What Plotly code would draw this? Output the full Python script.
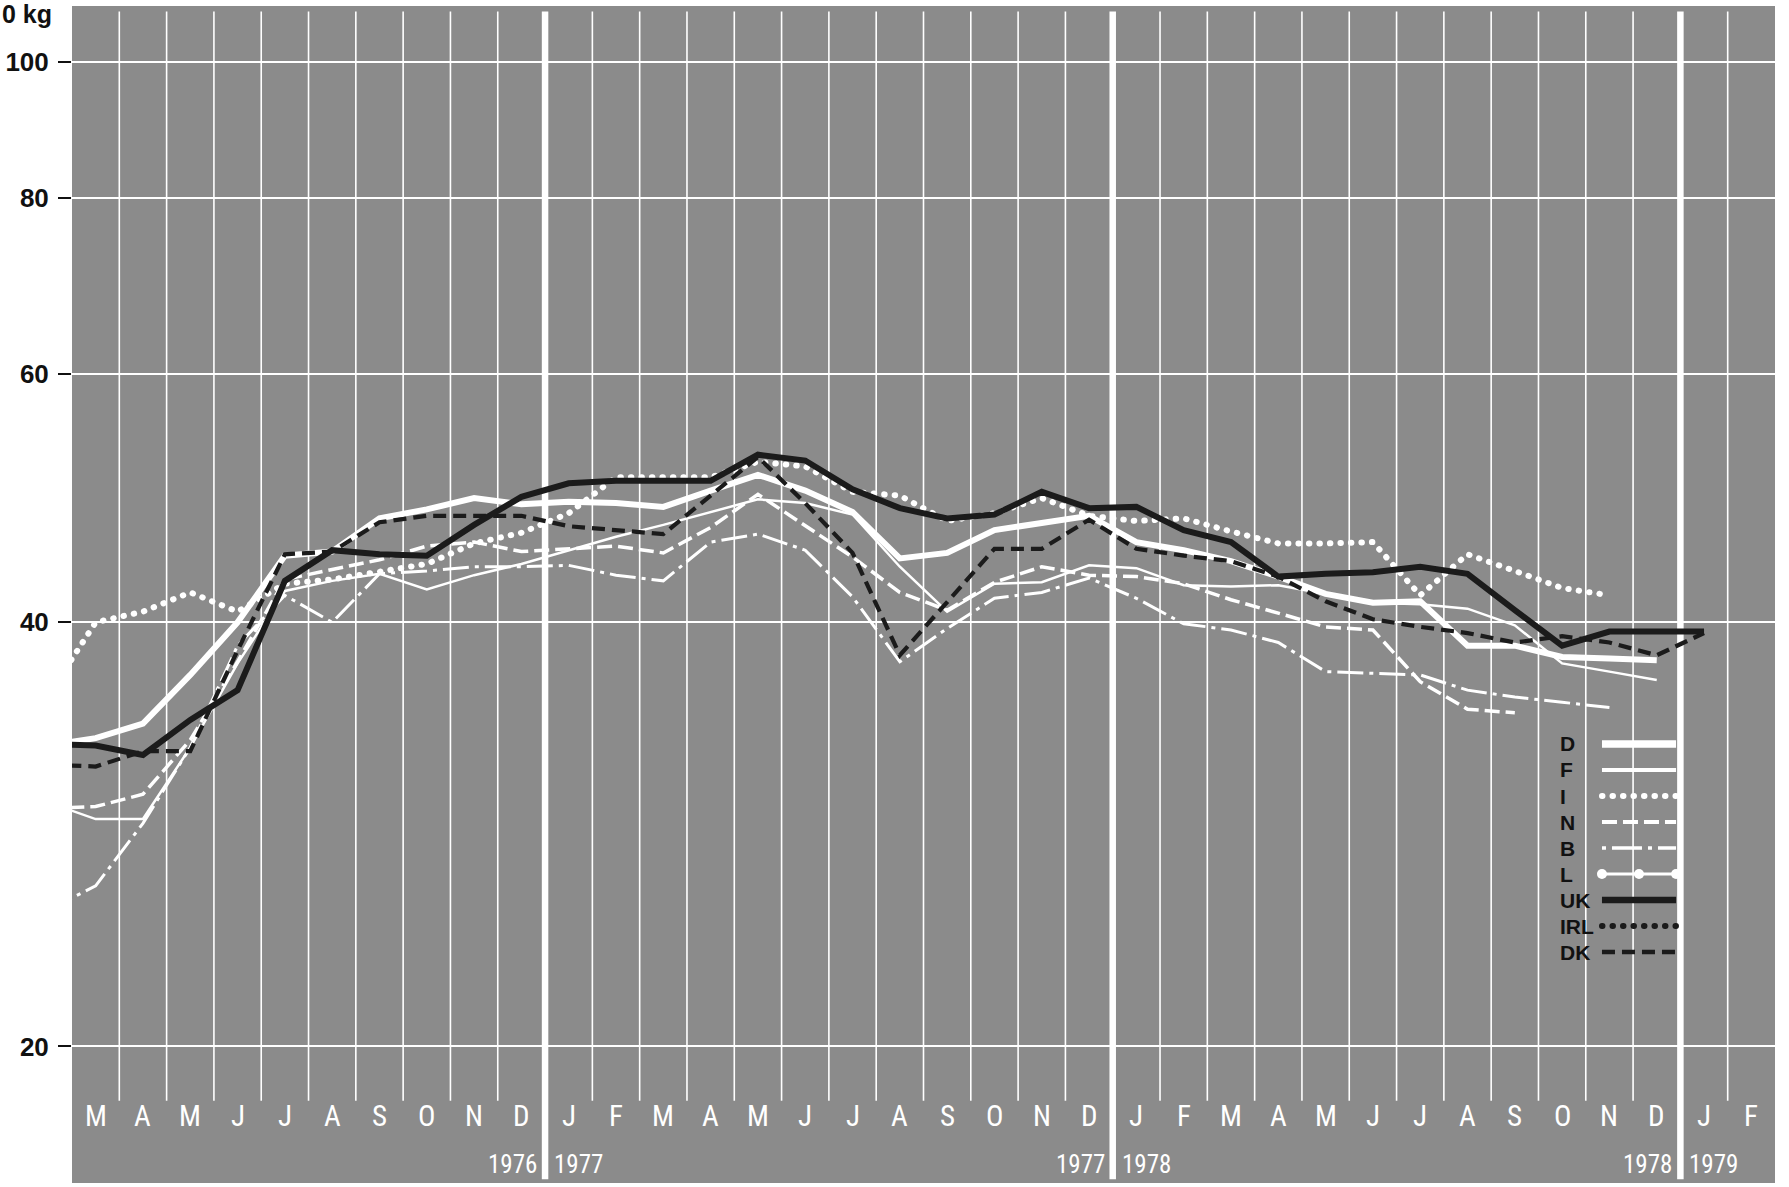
import math
import plotly.graph_objects as go

# ---------------- data ----------------
# month index 0 = March 1976 ; every series starts at index -1 (February 1976)
month_labels = ["M", "A", "M", "J", "J", "A", "S", "O", "N", "D",
                "J", "F", "M", "A", "M", "J", "J", "A", "S", "O", "N", "D",
                "J", "F", "M", "A", "M", "J", "J", "A", "S", "O", "N", "D",
                "J", "F"]
year_breaks = [9.5, 21.5, 33.5]
years_before = ["1976", "1977", "1978"]
years_after = ["1977", "1978", "1979"]
y_ticks = [20, 40, 60, 80, 100]
first_index = -1

D = [32.7, 33.1, 33.9, 36.7, 40.0, 44.6, 44.9, 47.4, 48.1, 49.0, 48.5, 48.7, 48.6, 48.3,
     49.6, 50.9, 49.6, 47.9, 44.4, 44.8, 46.5, 47.0, 47.6, 45.6, 45.0, 44.2, 43.1, 41.9,
     41.3, 41.4, 38.5, 38.5, 37.8, 37.7, 37.6]
F = [29.8, 29.0, 29.0, 32.6, 37.4, 42.1, 42.8, 43.3, 42.2, 43.2, 44.0, 45.0, 46.0, 46.9,
     47.9, 48.9, 48.6, 47.7, 43.8, 40.7, 42.6, 42.7, 43.9, 43.7, 42.5, 42.4, 42.5, 41.9,
     41.3, 41.2, 40.9, 39.8, 37.4, 36.9, 36.4]
I = [35.5, 40.0, 40.7, 42.0, 40.7, 42.6, 42.9, 43.4, 44.0, 45.5, 46.3, 47.8, 50.7, 50.7,
     50.7, 52.0, 51.6, 49.5, 49.2, 47.2, 47.8, 49.0, 47.6, 47.2, 47.4, 46.4, 45.5, 45.5,
     45.6, 41.8, 44.7, 43.5, 42.3, 41.8]
N = [29.5, 29.6, 30.2, 33.0, 37.5, 42.9, 43.6, 44.3, 45.3, 45.6, 44.9, 45.1, 45.3, 44.8,
     46.7, 49.3, 46.8, 44.5, 42.0, 40.8, 42.7, 43.8, 43.2, 43.1, 42.6, 41.5, 40.6, 39.7,
     39.5, 36.3, 34.7, 34.5]
B = [25.0, 26.0, 28.8, 32.6, 38.5, 41.8, 40.0, 43.3, 43.5, 43.8, 43.8, 43.9, 43.2, 42.8,
     45.6, 46.2, 45.0, 41.7, 37.5, 39.6, 41.6, 42.0, 43.0, 41.6, 39.9, 39.5, 38.7, 36.9,
     36.8, 36.7, 35.8, 35.4, 35.1, 34.8]
L = []
UK = [32.8, 32.7, 32.2, 34.1, 35.8, 42.8, 45.0, 44.7, 44.6, 46.9, 49.1, 50.2, 50.4, 50.4,
      50.4, 52.6, 52.1, 49.7, 48.2, 47.4, 47.7, 49.5, 48.2, 48.3, 46.5, 45.6, 43.1, 43.3,
      43.4, 43.8, 43.3, 40.8, 38.5, 39.4, 39.4, 39.4]
IRL = []
DK = [31.7, 31.6, 32.4, 32.4, 38.2, 44.7, 44.9, 47.1, 47.6, 47.6, 47.6, 46.8, 46.5, 46.2,
      49.2, 52.4, 48.6, 44.8, 37.9, 41.3, 45.1, 45.1, 47.3, 45.1, 44.6, 44.2, 43.1, 41.4,
      40.2, 39.7, 39.3, 38.7, 39.1, 38.7, 37.9, 39.3]

series_names = ["D", "F", "I", "N", "B", "L", "UK", "IRL", "DK"]
series_values = {"D": D, "F": F, "I": I, "N": N, "B": B, "L": L,
                 "UK": UK, "IRL": IRL, "DK": DK}

# ---------------- style ----------------
BG = "#8b8b8b"
WHITE = "#ffffff"
BLACK = "#1b1b1b"
DOT = "0.5px,10px"          # drawn with round caps -> round dots
styles = {
    "D": dict(color=WHITE, width=6, dash="solid"),
    "F": dict(color=WHITE, width=2.5, dash="solid"),
    "I": dict(color=WHITE, width=6, dash=DOT),
    "N": dict(color=WHITE, width=3.5, dash="15px,6px"),
    "B": dict(color=WHITE, width=3, dash="26px,6px,4px,6px"),
    "L": dict(color=WHITE, width=3, dash="solid"),
    "UK": dict(color=BLACK, width=6, dash="solid"),
    "IRL": dict(color=BLACK, width=6, dash=DOT),
    "DK": dict(color=BLACK, width=4.2, dash="13px,7px"),
}
legend_width = {"D": 7.5, "F": 4, "I": 6, "N": 4, "B": 3.5, "L": 3,
                "UK": 6.5, "IRL": 6, "DK": 4.5}
legend_dash = {"B": "4px,6px,30px,6px"}

COND_FONT = "Roboto Condensed, Liberation Sans Narrow, DejaVu Sans Condensed, Roboto"
LABEL_FONT = "Liberation Sans"

X_MIN, X_MAX = -0.5, 35.5
Y_MIN, Y_MAX = 16.0, 109.5
GRID_TOP, GRID_BOTTOM, THICK_BOTTOM = 108.5, 18.3, 16.1
MONTH_Y, YEAR_Y = 17.85, 16.5

fig = go.Figure()

# data lines (white first, black on top)
for name in ["B", "N", "F", "I", "D", "L", "DK", "UK", "IRL"]:
    vals = series_values[name]
    if not vals:
        continue
    xs = list(range(first_index, first_index + len(vals)))
    fig.add_trace(go.Scatter(x=xs, y=vals, mode="lines", line=styles[name],
                             showlegend=False, hoverinfo="skip"))

# key drawn on an overlay axis (0..1 in both directions)
leg_x0, leg_x1 = 0.8984, 0.9419
leg_label_x = 0.873
leg_top, leg_step = 0.373, 0.0221
for k, name in enumerate(series_names):
    yrow = leg_top - k * leg_step
    st = dict(styles[name])
    st["width"] = legend_width[name]
    if name in legend_dash:
        st["dash"] = legend_dash[name]
    if name == "L":
        fig.add_trace(go.Scatter(x=[leg_x0, (leg_x0 + leg_x1) / 2, leg_x1], y=[yrow] * 3,
                                 mode="lines+markers", line=st,
                                 marker=dict(size=10, color=WHITE),
                                 xaxis="x2", yaxis="y2", showlegend=False, hoverinfo="skip"))
    else:
        fig.add_trace(go.Scatter(x=[leg_x0, leg_x1], y=[yrow, yrow], mode="lines", line=st,
                                 xaxis="x2", yaxis="y2", showlegend=False, hoverinfo="skip"))
    fig.add_annotation(x=leg_label_x, y=yrow, xref="x2", yref="y2", text=name,
                       showarrow=False, xanchor="left", yanchor="middle", borderpad=0,
                       font=dict(family=LABEL_FONT, size=21, color="#111111", weight="bold"))

# vertical month grid
shapes = []
for k in range(0, 35):
    b = k + 0.5
    thick = b in year_breaks
    shapes.append(dict(type="line", xref="x", yref="y", x0=b, x1=b,
                       y0=THICK_BOTTOM if thick else GRID_BOTTOM, y1=GRID_TOP,
                       line=dict(color=WHITE, width=6.5 if thick else 1.6),
                       layer="below"))
# key panel (hides grid behind the key)
shapes.append(dict(type="rect", xref="paper", yref="paper", x0=0.867, x1=1.0,
                   y0=0.181, y1=0.391, fillcolor=BG, line=dict(width=0), layer="below"))

# month and year labels
for i, m in enumerate(month_labels):
    fig.add_annotation(x=i, y=math.log10(MONTH_Y), text=m, showarrow=False,
                       xanchor="center", yanchor="middle",
                       font=dict(family=COND_FONT, size=29, color=WHITE))
for b, y0, y1 in zip(year_breaks, years_before, years_after):
    fig.add_annotation(x=b, y=math.log10(YEAR_Y), text=y0, showarrow=False,
                       xanchor="right", yanchor="middle", xshift=-6,
                       font=dict(family=COND_FONT, size=25, color=WHITE))
    fig.add_annotation(x=b, y=math.log10(YEAR_Y), text=y1, showarrow=False,
                       xanchor="left", yanchor="middle", xshift=7,
                       font=dict(family=COND_FONT, size=25, color=WHITE))

fig.add_annotation(x=-72 / 1703, y=0.993, xref="paper", yref="paper", text="0 kg",
                   showarrow=False, xanchor="left", yanchor="middle",
                   font=dict(family=LABEL_FONT, size=25, color="#111111", weight="bold"))

fig.update_layout(
    width=1789, height=1187,
    margin=dict(l=72, r=14, t=6, b=4),
    paper_bgcolor="white", plot_bgcolor=BG,
    shapes=shapes,
    xaxis=dict(range=[X_MIN, X_MAX], showgrid=False, zeroline=False,
               showticklabels=False, ticks="", showline=False, fixedrange=True),
    yaxis=dict(type="log", range=[math.log10(Y_MIN), math.log10(Y_MAX)],
               tickvals=y_ticks, ticktext=[str(v) for v in y_ticks],
               showgrid=True, gridcolor=WHITE, gridwidth=1.6, zeroline=False,
               showline=False, ticks="outside", ticklen=13, tickwidth=2,
               tickcolor="#111111", ticklabelstandoff=4,
               tickfont=dict(family=LABEL_FONT, size=26, color="#111111", weight="bold")),
    xaxis2=dict(overlaying="x", range=[0, 1], visible=False, fixedrange=True),
    yaxis2=dict(overlaying="y", range=[0, 1], visible=False, fixedrange=True),
    showlegend=False,
)

post = (
    "document.body.style.margin='0';document.body.style.padding='0';"
    "document.querySelectorAll('path.js-line').forEach(function(p){"
    "var d=p.style.strokeDasharray||'';"
    "if(d.indexOf('0.5px')===0){p.style.strokeLinecap='round';}});"
)
fig.write_html("out.html", config={"displayModeBar": False}, post_script=post)
